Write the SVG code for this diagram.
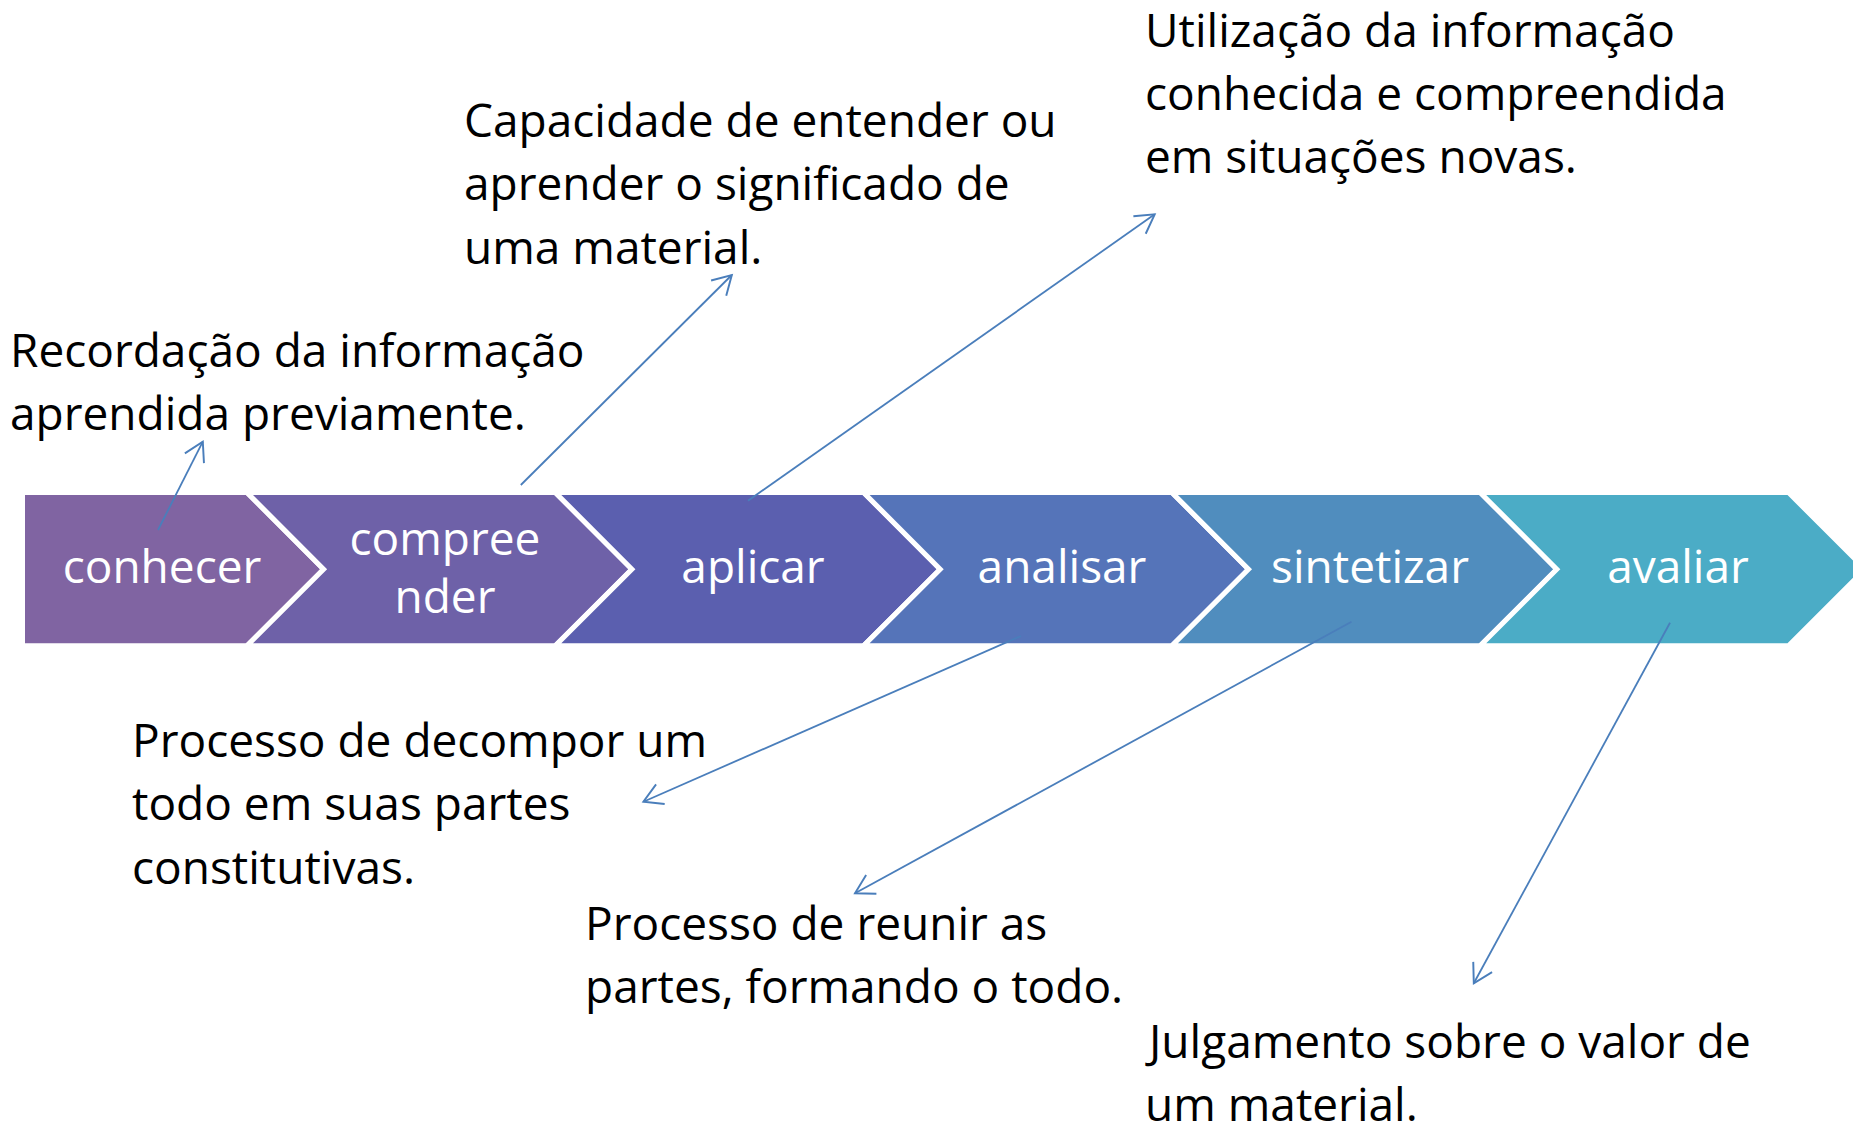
<svg xmlns="http://www.w3.org/2000/svg" width="1853" height="1128" viewBox="0 0 1853 1128">
<defs>
<style>
.chev{stroke:#ffffff;stroke-width:5;stroke-linejoin:miter}
.lbl{font-family:"Open Sans","Noto Sans",sans-serif;font-size:46px;fill:#ffffff;text-anchor:middle}
.txt{font-family:"Open Sans","Noto Sans",sans-serif;font-size:46px;fill:#000000}
.con{fill:none;stroke:#4A7EBB;stroke-width:1.8}
</style>
<marker id="arr" markerUnits="userSpaceOnUse" markerWidth="30" markerHeight="30" viewBox="-22 -14 26 28" refX="0" refY="0" orient="auto" overflow="visible">
<path d="M-17.3,-10 L0,0 L-17.3,10" fill="none" stroke="#4A7EBB" stroke-width="1.8"/>
</marker>
</defs>
<rect width="1853" height="1128" fill="#ffffff"/>
<g id="chevrons">
<g id="n-conhecer"><polygon class="chev" fill="#8064A2" points="22.5,492.5 247,492.5 323.6,569.15 247,645.8 22.5,645.8"/><text class="lbl" x="162" y="583">conhecer</text></g>
<g id="n-compreender"><polygon class="chev" fill="#6E61A8" points="247,492.5 555.3,492.5 631.9,569.15 555.3,645.8 247,645.8 323.6,569.15"/><text class="lbl" x="445" y="555">compree</text><text class="lbl" x="445" y="613">nder</text></g>
<g id="n-aplicar"><polygon class="chev" fill="#5B5FAF" points="555.3,492.5 863.6,492.5 940.2,569.15 863.6,645.8 555.3,645.8 631.9,569.15"/><text class="lbl" x="753" y="583">aplicar</text></g>
<g id="n-analisar"><polygon class="chev" fill="#5574B9" points="863.6,492.5 1171.9,492.5 1248.5,569.15 1171.9,645.8 863.6,645.8 940.2,569.15"/><text class="lbl" x="1062" y="583">analisar</text></g>
<g id="n-sintetizar"><polygon class="chev" fill="#508DBE" points="1171.9,492.5 1480.2,492.5 1556.8,569.15 1480.2,645.8 1171.9,645.8 1248.5,569.15"/><text class="lbl" x="1370" y="583">sintetizar</text></g>
<g id="n-avaliar"><polygon class="chev" fill="#4BACC6" points="1480.2,492.5 1788.5,492.5 1865.1,569.15 1788.5,645.8 1480.2,645.8 1556.8,569.15"/><text class="lbl" x="1678" y="583">avaliar</text></g>
</g>
<g id="connectors">
<line class="con" x1="158" y1="530" x2="202.8" y2="441.7" marker-end="url(#arr)"/>
<line class="con" x1="520.8" y1="485" x2="731.8" y2="275" marker-end="url(#arr)"/>
<line class="con" x1="748" y1="500.7" x2="1154.7" y2="214.3" marker-end="url(#arr)"/>
<line class="con" x1="1021" y1="636" x2="643.4" y2="801.7" marker-end="url(#arr)"/>
<line class="con" x1="1351.5" y1="621.7" x2="855" y2="893.3" marker-end="url(#arr)"/>
<line class="con" x1="1670" y1="622.7" x2="1473.8" y2="983.3" marker-end="url(#arr)"/>
</g>
<g id="t-conhecer"><text class="txt" x="10" y="366.7">Recordação da informação</text><text class="txt" x="10" y="430">aprendida previamente.</text></g>
<g id="t-compreender"><text class="txt" x="464" y="136.7">Capacidade de entender ou</text><text class="txt" x="464" y="200">aprender o significado de</text><text class="txt" x="464" y="264">uma material.</text></g>
<g id="t-aplicar"><text class="txt" x="1145" y="46.7">Utilização da informação</text><text class="txt" x="1145" y="110">conhecida e compreendida</text><text class="txt" x="1145" y="173.3">em situações novas.</text></g>
<g id="t-analisar"><text class="txt" x="132" y="756.7">Processo de decompor um</text><text class="txt" x="132" y="820">todo em suas partes</text><text class="txt" x="132" y="884">constitutivas.</text></g>
<g id="t-sintetizar"><text class="txt" x="585" y="940">Processo de reunir as</text><text class="txt" x="585" y="1003.3">partes, formando o todo.</text></g>
<g id="t-avaliar"><text class="txt" x="1149" y="1058.3">Julgamento sobre o valor de</text><text class="txt" x="1145" y="1121">um material.</text></g>
</svg>
